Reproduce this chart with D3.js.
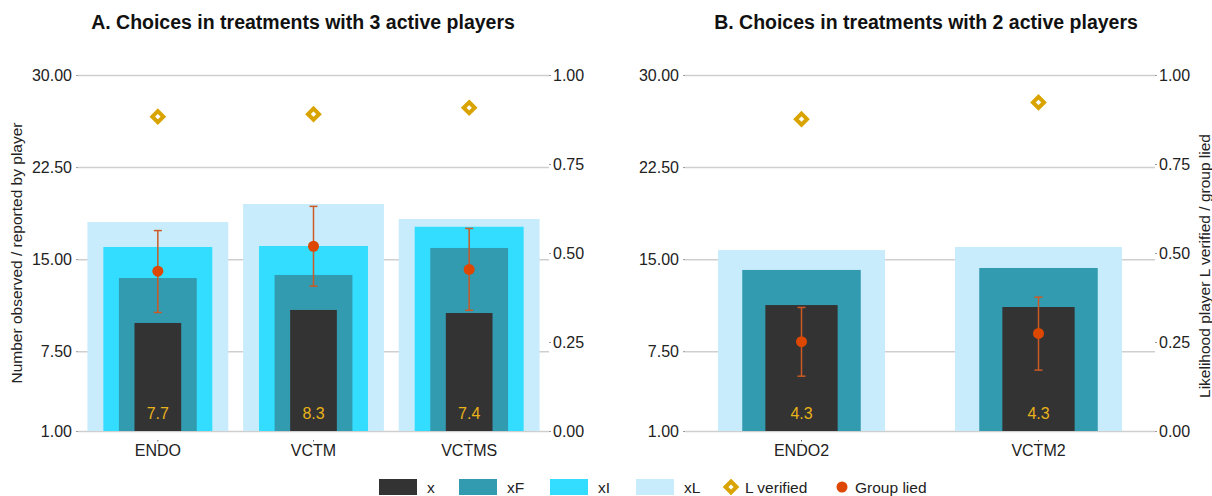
<!DOCTYPE html>
<html>
<head>
<meta charset="utf-8">
<script src="https://cdn.jsdelivr.net/npm/d3@7/dist/d3.min.js"></script>
<style>
  html, body { margin: 0; padding: 0; background: #fff; }
  svg { display: block; font-family: "Liberation Sans", Arial, Helvetica, sans-serif; }
</style>
</head>
<body>
<svg id="chart" width="1212" height="496"></svg>
<script>
// ---- data ----
const leftTicks = [1, 7.5, 15, 22.5, 30];
const rightTicks = [0, 0.25, 0.5, 0.75, 1];

const catsA = ["ENDO", "VCTM", "VCTMS"];
const xA = [9.8, 10.86, 10.61];
const xFA = [13.46, 13.71, 15.91];
const xIA = [15.99, 16.07, 17.64];
const xLA = [18.02, 19.49, 18.27];
const lVerifiedA = [0.883, 0.890, 0.908];
const groupLiedA = [0.449, 0.519, 0.454];
const groupLiedLowA = [0.333, 0.407, 0.339];
const groupLiedHighA = [0.563, 0.631, 0.569];
const barLabelsA = [7.7, 8.3, 7.4];

const catsB = ["ENDO2", "VCTM2"];
const xB = [11.26, 11.10];
const xFB = [14.12, 14.28];
const xIB = [null, null];
const xLB = [15.74, 15.99];
const lVerifiedB = [0.876, 0.923];
const groupLiedB = [0.251, 0.274];
const groupLiedLowB = [0.154, 0.171];
const groupLiedHighB = [0.347, 0.376];
const barLabelsB = [4.3, 4.3];

const legendSeries = ["x", "xF", "xI", "xL"];

// ---- styles ----
const colors = { x: "#333333", xF: "#339bb0", xI: "#33ddff", xL: "#c9ecfc" };
const diamondColor = "#d9a300";
const errColor = "#cc5a24";
const dotColor = "#dd4700";
const labelColor = "#e8b21a";
const gridColor = "#cfcfcf";
const textColor = "#222";
const tickFont = 16;

const svg = d3.select("#chart");
const yTop = 75, yBottom = 431;

function panel(cfg) {
  const g = svg.append("g");
  const y = d3.scaleLinear().domain([1, 30]).range([yBottom, yTop]);
  const y2 = d3.scaleLinear().domain([0, 1]).range([yBottom, yTop]);
  const xb = d3.scaleBand().domain(cfg.cats).range(cfg.band).padding(0);
  const bw = xb.bandwidth();

  // title
  g.append("text").attr("x", cfg.titleX).attr("y", 29)
    .attr("text-anchor", "middle").attr("font-size", 19.5).attr("font-weight", "bold")
    .attr("fill", "#111").text(cfg.title);

  // grid lines from the left axis
  const gridAxis = d3.axisLeft(y).tickValues(leftTicks).tickSize(-(cfg.grid[1] - cfg.grid[0])).tickFormat("");
  const gg = g.append("g").attr("transform", `translate(${cfg.grid[0]},0)`).call(gridAxis);
  gg.select(".domain").remove();
  gg.selectAll(".tick line").attr("stroke", gridColor).attr("stroke-width", 1.5);

  // left axis ticks + labels
  const la = g.append("g").attr("transform", `translate(${cfg.grid[0]},0)`)
    .call(d3.axisLeft(y).tickValues(leftTicks).tickSize(2).tickPadding(4).tickFormat(d3.format(".2f")));
  la.select(".domain").remove();
  la.selectAll(".tick line").attr("stroke", "#999");
  la.selectAll(".tick text").attr("font-size", tickFont).attr("fill", textColor).attr("font-family", null);

  // right axis (probabilities)
  const ra = g.append("g").attr("transform", `translate(${cfg.grid[1]},0)`)
    .call(d3.axisRight(y2).tickValues(rightTicks).tickSize(2).tickPadding(2).tickFormat(d3.format(".2f")));
  ra.select(".domain").remove();
  ra.selectAll(".tick line").attr("stroke", "#999");
  ra.selectAll(".tick text").attr("font-size", tickFont).attr("fill", textColor).attr("font-family", null);

  // overlapping bars, widest at the back
  const series = [
    { key: "xL", vals: cfg.xL, w: cfg.widths.xL },
    { key: "xI", vals: cfg.xI, w: cfg.widths.xI },
    { key: "xF", vals: cfg.xF, w: cfg.widths.xF },
    { key: "x", vals: cfg.x, w: cfg.widths.x }
  ];
  series.forEach(s => {
    g.append("g").selectAll("rect")
      .data(cfg.cats.map((c, i) => ({ c, v: s.vals[i] })).filter(d => d.v != null))
      .join("rect")
      .attr("x", d => xb(d.c) + bw / 2 - bw * s.w / 2)
      .attr("width", bw * s.w)
      .attr("y", d => y(d.v))
      .attr("height", d => y(1) - y(d.v))
      .attr("fill", colors[s.key]);
  });

  // value labels inside the dark bars
  g.append("g").selectAll("text")
    .data(cfg.cats.map((c, i) => ({ c, v: cfg.labels[i] })))
    .join("text")
    .attr("x", d => xb(d.c) + bw / 2)
    .attr("y", 419)
    .attr("text-anchor", "middle").attr("font-size", 16).attr("fill", labelColor)
    .text(d => d3.format(".1f")(d.v));

  // category axis
  const xa = g.append("g").attr("transform", `translate(0,${yBottom})`)
    .call(d3.axisBottom(xb).tickSize(0).tickPadding(14));
  xa.select(".domain").remove();
  xa.selectAll(".tick text").attr("font-size", tickFont).attr("fill", textColor).attr("font-family", null);
  xa.selectAll(".tick").append("rect").attr("x", -0.5).attr("y", 9).attr("width", 1).attr("height", 1.5).attr("fill", "#666");

  // group lied: error bars + dots
  const eg = g.append("g");
  cfg.cats.forEach((c, i) => {
    const cx = xb(c) + bw / 2;
    eg.append("line").attr("x1", cx).attr("x2", cx)
      .attr("y1", y2(cfg.low[i])).attr("y2", y2(cfg.high[i]))
      .attr("stroke", errColor).attr("stroke-width", 1.5);
    [cfg.low[i], cfg.high[i]].forEach(v => {
      eg.append("line").attr("x1", cx - 4).attr("x2", cx + 4)
        .attr("y1", y2(v)).attr("y2", y2(v))
        .attr("stroke", errColor).attr("stroke-width", 1.5);
    });
    eg.append("circle").attr("cx", cx).attr("cy", y2(cfg.lied[i])).attr("r", 5.5).attr("fill", dotColor);
  });

  // L verified diamonds
  g.append("g").selectAll("path")
    .data(cfg.cats.map((c, i) => ({ c, v: cfg.lv[i] })))
    .join("path")
    .attr("transform", d => `translate(${xb(d.c) + bw / 2},${y2(d.v)})`)
    .attr("d", "M0,-5.5L5.5,0L0,5.5L-5.5,0Z")
    .attr("fill", "#fff").attr("stroke", diamondColor).attr("stroke-width", 4);
}

panel({
  title: "A. Choices in treatments with 3 active players", titleX: 303,
  cats: catsA, band: [80, 547], grid: [78, 549],
  x: xA, xF: xFA, xI: xIA, xL: xLA, lv: lVerifiedA,
  lied: groupLiedA, low: groupLiedLowA, high: groupLiedHighA, labels: barLabelsA,
  widths: { xL: 0.905, xI: 0.70, xF: 0.50, x: 0.30 }
});
panel({
  title: "B. Choices in treatments with 2 active players", titleX: 926,
  cats: catsB, band: [683, 1157], grid: [685, 1155],
  x: xB, xF: xFB, xI: xIB, xL: xLB, lv: lVerifiedB,
  lied: groupLiedB, low: groupLiedLowB, high: groupLiedHighB, labels: barLabelsB,
  widths: { xL: 0.705, xI: 0.6, xF: 0.50, x: 0.305 }
});

// axis titles
svg.append("text").attr("transform", "translate(22,253) rotate(-90)")
  .attr("text-anchor", "middle").attr("font-size", 15.5).attr("fill", textColor)
  .text("Number observed / reported by player");
svg.append("text").attr("transform", "translate(1210,266) rotate(-90)")
  .attr("text-anchor", "middle").attr("font-size", 15.5).attr("fill", textColor)
  .text("Likelihood player L verified / group lied");

// legend
const legend = svg.append("g");
const swatchX = [379, 459, 550, 636];
legendSeries.forEach((k, i) => {
  legend.append("rect").attr("x", swatchX[i]).attr("y", 479).attr("width", 38).attr("height", 16).attr("fill", colors[k]);
  legend.append("text").attr("x", swatchX[i] + 48).attr("y", 493).attr("font-size", 15.5).attr("fill", textColor).text(k);
});
legend.append("path").attr("transform", "translate(731,487)")
  .attr("d", "M0,-5.5L5.5,0L0,5.5L-5.5,0Z")
  .attr("fill", "#fff").attr("stroke", diamondColor).attr("stroke-width", 4);
legend.append("text").attr("x", 745).attr("y", 493).attr("font-size", 15.5).attr("fill", textColor).text("L verified");
legend.append("circle").attr("cx", 842).attr("cy", 487).attr("r", 5.5).attr("fill", dotColor);
legend.append("text").attr("x", 855).attr("y", 493).attr("font-size", 15.5).attr("fill", textColor).text("Group lied");
</script>
</body>
</html>
